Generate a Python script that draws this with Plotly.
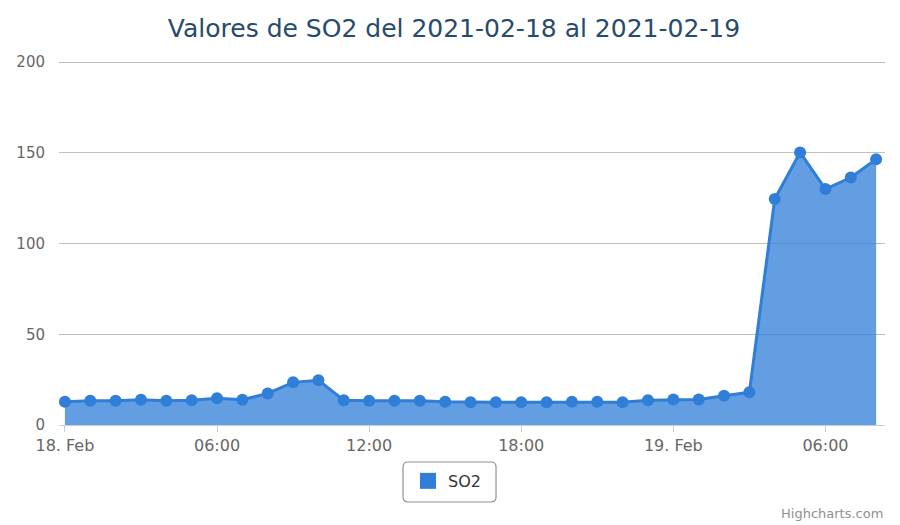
import pandas as pd
import plotly.graph_objects as go

# hourly SO2 readings, 2021-02-18 00:00 -> 2021-02-19 08:00
times = pd.date_range("2021-02-18 00:00", periods=33, freq="h")
so2 = [12.8, 13.4, 13.4, 13.9, 13.4, 13.6, 14.7, 13.9, 17.4, 23.5, 24.7,
       13.7, 13.4, 13.4, 13.4, 12.8, 12.5, 12.5, 12.5, 12.5, 12.8, 12.8,
       12.5, 13.7, 14.1, 14.1, 16.1, 18.0, 124.5, 150.2, 130.0, 136.4, 146.5]

tick_vals = ["2021-02-18 00:00", "2021-02-18 06:00", "2021-02-18 12:00",
             "2021-02-18 18:00", "2021-02-19 00:00", "2021-02-19 06:00"]
tick_text = ["18. Feb", "06:00", "12:00", "18:00", "19. Feb", "06:00"]
y_ticks = [0, 50, 100, 150, 200]

blue = "#2f7ed8"
font = "DejaVu Sans"

fig = go.Figure()

fig.add_trace(go.Scatter(
    x=times, y=so2,
    mode="lines+markers",
    fill="tozeroy",
    fillcolor="rgba(47,126,216,0.75)",
    line=dict(color=blue, width=3),
    marker=dict(color=blue, size=12),
    name="SO2",
    showlegend=False,
    hoverinfo="x+y",
))

# legend-only entry so the legend shows a plain block like highcharts
fig.add_trace(go.Scatter(
    x=[None], y=[None],
    mode="markers",
    marker=dict(color=blue, size=18, symbol="square"),
    name="SO2",
    showlegend=True,
))

# page body has an 8px margin, so the figure is a bit smaller than the window
fig.update_layout(
    width=892, height=517,
    margin=dict(l=51, r=15, t=53, b=100, autoexpand=False),
    paper_bgcolor="white",
    plot_bgcolor="white",
    font=dict(family=font, color="#666666", size=15),
    title=dict(
        text="Valores de SO2 del 2021-02-18 al 2021-02-19",
        x=0.5, xanchor="center",
        y=0.961, yanchor="middle",
        font=dict(family=font, size=25, color="#274b6d"),
    ),
    xaxis=dict(
        type="date",
        automargin=False,
        range=["2021-02-17 23:46", "2021-02-19 08:21"],
        tickvals=tick_vals,
        ticktext=tick_text,
        ticks="outside",
        ticklen=6,
        tickcolor="#c0d0e0",
        showline=True,
        linecolor="#c0d0e0",
        linewidth=1,
        showgrid=False,
        zeroline=False,
        tickfont=dict(size=16, color="#666666"),
    ),
    yaxis=dict(
        automargin=False,
        range=[0, 200.6],
        tickvals=y_ticks,
        showgrid=True,
        gridcolor="#c0c0c0",
        gridwidth=1,
        zeroline=False,
        showline=False,
        ticks="",
        ticklabelstandoff=13,
        tickfont=dict(size=15, color="#666666"),
    ),
    legend=dict(
        orientation="h",
        x=0.4225, xanchor="left",
        y=-0.107, yanchor="top",
        bgcolor="rgba(0,0,0,0)",
        font=dict(size=16, color="#333333"),
        itemsizing="trace",
    ),
    showlegend=True,
)

# rounded legend frame
fig.add_shape(
    type="path",
    xref="paper", yref="paper",
    path=("M 0.4226,-0.1016 L 0.5230,-0.1016 Q 0.5291,-0.1016 0.5291,-0.1153 "
          "L 0.5291,-0.1978 Q 0.5291,-0.2115 0.5230,-0.2115 L 0.4226,-0.2115 "
          "Q 0.4165,-0.2115 0.4165,-0.1978 L 0.4165,-0.1153 Q 0.4165,-0.1016 0.4226,-0.1016 Z"),
    line=dict(color="#909090", width=1.2),
    fillcolor="rgba(0,0,0,0)",
)

fig.add_annotation(
    text="Highcharts.com",
    xref="paper", yref="paper",
    x=1.0, xanchor="right",
    y=-0.242, yanchor="middle",
    showarrow=False,
    font=dict(family=font, size=13, color="#909090"),
)

fig.write_html("out.html")
